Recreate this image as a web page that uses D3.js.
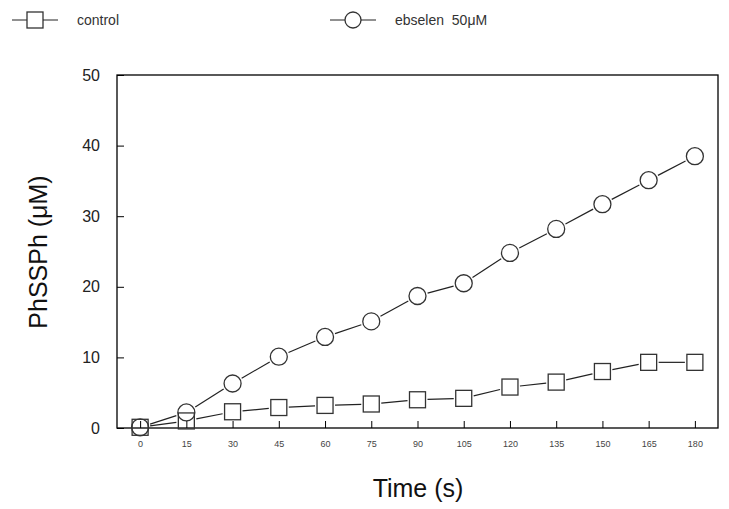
<!DOCTYPE html>
<html>
<head>
<meta charset="utf-8">
<script src="https://cdn.jsdelivr.net/npm/d3@7"></script>
<style>
  body { margin: 0; background: #fff; }
  svg { display: block; font-family: "Liberation Sans", Arial, sans-serif; }
</style>
</head>
<body>
<div id="chart"></div>
<script>
// Time points (s) and PhSSPh concentrations (uM).
var times = [0, 15, 30, 45, 60, 75, 90, 105, 120, 135, 150, 165, 180];
var control = [0.1, 1.0, 2.3, 2.9, 3.2, 3.4, 4.0, 4.2, 5.8, 6.5, 8.0, 9.3, 9.3];
var ebselen = [0.1, 2.2, 6.3, 10.1, 12.9, 15.1, 18.7, 20.5, 24.8, 28.2, 31.7, 35.1, 38.5];
var xTicks = [0, 15, 30, 45, 60, 75, 90, 105, 120, 135, 150, 165, 180];
var yTicks = [0, 10, 20, 30, 40, 50];
var seriesNames = ["control", "ebselen  50\u03bcM"];

drawGraph();

function drawGraph() {
  const width = 729, height = 509;
  const margin = {top: 75, right: 11, bottom: 81, left: 117};

  var svg = d3.select('#chart')
              .append('svg')
              .attr('width', width)
              .attr('height', height);

  // -7.5 .. 187.5 so the 0 and 180 ticks sit inside the frame
  var x = d3.scaleLinear()
            .domain([-7.5, 187.5])
            .range([margin.left, width - margin.right]);

  var y = d3.scaleLinear()
            .domain([0, 50])
            .range([height - margin.bottom, margin.top]);

  // Plot frame
  svg.append('rect')
     .attr('x', x.range()[0])
     .attr('y', y.range()[1])
     .attr('width', x.range()[1] - x.range()[0])
     .attr('height', y.range()[0] - y.range()[1])
     .attr('fill', 'none')
     .attr('stroke', '#000')
     .attr('stroke-width', 1.3);

  // Series: lines stop just short of each marker
  drawSeries(svg, x, y, ebselen, 'circle');
  drawSeries(svg, x, y, control, 'square');

  // Axes with inward ticks, drawn over the markers
  var xAxis = d3.axisBottom(x)
                .tickValues(xTicks)
                .tickSizeInner(-7)
                .tickSizeOuter(0)
                .tickPadding(13);
  var gx = svg.append('g')
              .attr('transform', 'translate(0,' + y(0) + ')')
              .call(xAxis);
  gx.select('.domain').remove();
  gx.selectAll('line').attr('stroke', '#000');
  gx.selectAll('text')
    .attr('fill', '#444')
    .style('font-size', '9px');

  var yAxis = d3.axisLeft(y)
                .tickValues(yTicks)
                .tickSizeInner(-7)
                .tickSizeOuter(0)
                .tickPadding(17);
  var gy = svg.append('g')
              .attr('transform', 'translate(' + x(-7.5) + ',0)')
              .call(yAxis);
  gy.select('.domain').remove();
  gy.selectAll('line').attr('stroke', '#000');
  gy.selectAll('text')
    .attr('fill', '#222')
    .style('font-size', '16px');

  // Axis titles
  svg.append('text')
     .attr('x', 418)
     .attr('y', 497)
     .attr('text-anchor', 'middle')
     .attr('fill', '#111')
     .style('font-size', '25px')
     .text('Time (s)');

  svg.append('text')
     .attr('transform', 'translate(47,252) rotate(-90)')
     .attr('text-anchor', 'middle')
     .attr('fill', '#111')
     .style('font-size', '25px')
     .text('PhSSPh (\u03bcM)');

  // Legend
  legendItem(svg, 12, 20, 'square', seriesNames[0]);
  legendItem(svg, 330, 20, 'circle', seriesNames[1]);
}

function drawSeries(svg, x, y, values, shape) {
  var pts = times.map(function(t, i) {
    return [x(t), y(values[i])];
  });
  var r = shape === 'circle' ? 8.5 : 8;
  var g = svg.append('g');

  for (var i = 0; i < pts.length - 1; i++) {
    var a = pts[i], b = pts[i + 1];
    var dx = b[0] - a[0], dy = b[1] - a[1];
    var len = Math.sqrt(dx * dx + dy * dy);
    var ux = dx / len, uy = dy / len;
    var cut = edgeDist(ux, uy, r, shape) + 2;
    if (len <= cut * 2) continue;
    g.append('line')
     .attr('x1', a[0] + ux * cut)
     .attr('y1', a[1] + uy * cut)
     .attr('x2', b[0] - ux * cut)
     .attr('y2', b[1] - uy * cut)
     .attr('stroke', '#222')
     .attr('stroke-width', 1.2);
  }

  pts.forEach(function(p) {
    marker(g, p[0], p[1], shape, r);
  });
}

function edgeDist(ux, uy, r, shape) {
  if (shape === 'circle') return r;
  return r / Math.max(Math.abs(ux), Math.abs(uy));
}

function marker(g, cx, cy, shape, r) {
  if (shape === 'circle') {
    g.append('circle')
     .attr('cx', cx)
     .attr('cy', cy)
     .attr('r', r)
     .attr('fill', 'none')
     .attr('stroke', '#333')
     .attr('stroke-width', 1.3);
  } else {
    g.append('rect')
     .attr('x', cx - r)
     .attr('y', cy - r)
     .attr('width', r * 2)
     .attr('height', r * 2)
     .attr('fill', 'none')
     .attr('stroke', '#333')
     .attr('stroke-width', 1.3);
  }
}

function legendItem(svg, x0, cy, shape, label) {
  var r = 8;
  var g = svg.append('g');
  g.append('line')
   .attr('x1', x0).attr('x2', x0 + 15)
   .attr('y1', cy).attr('y2', cy)
   .attr('stroke', '#222');
  marker(g, x0 + 15 + r, cy, shape, r);
  g.append('line')
   .attr('x1', x0 + 15 + 2 * r).attr('x2', x0 + 30 + 2 * r)
   .attr('y1', cy).attr('y2', cy)
   .attr('stroke', '#222');
  g.append('text')
   .attr('x', x0 + 65)
   .attr('y', cy + 5)
   .attr('fill', '#333')
   .style('font-size', '14px')
   .style('white-space', 'pre')
   .text(label);
}
</script>
</body>
</html>
